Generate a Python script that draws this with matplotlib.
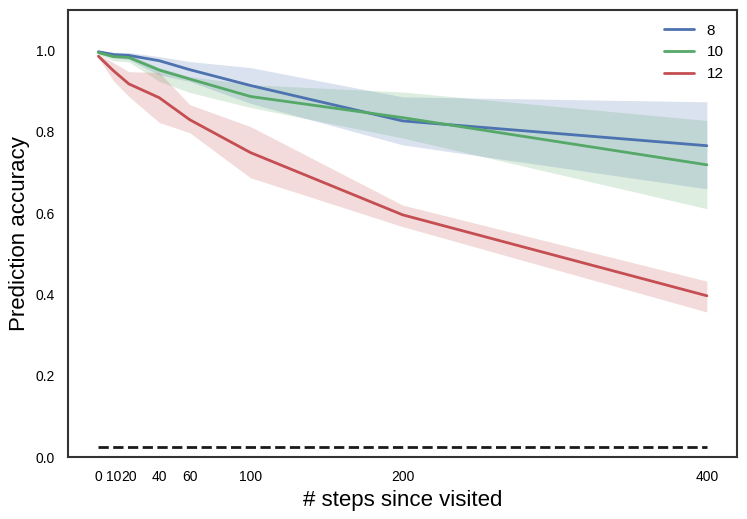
import matplotlib
matplotlib.use("Agg")
import matplotlib.pyplot as plt
import seaborn as sns
import numpy as np

steps = [0, 10, 20, 40, 60, 100, 200, 400]
labels = ["8", "10", "12"]
mean_8 = [0.997, 0.990, 0.988, 0.975, 0.953, 0.914, 0.827, 0.766]
low_8 = [0.992, 0.982, 0.978, 0.940, 0.924, 0.870, 0.768, 0.660]
high_8 = [1.000, 0.996, 0.995, 0.985, 0.973, 0.958, 0.886, 0.874]
mean_10 = [0.995, 0.985, 0.983, 0.952, 0.930, 0.887, 0.835, 0.719]
low_10 = [0.990, 0.975, 0.972, 0.924, 0.897, 0.860, 0.785, 0.611]
high_10 = [0.999, 0.992, 0.990, 0.958, 0.936, 0.916, 0.898, 0.828]
mean_12 = [0.986, 0.950, 0.918, 0.884, 0.830, 0.749, 0.596, 0.397]
low_12 = [0.982, 0.925, 0.887, 0.823, 0.798, 0.687, 0.567, 0.357]
high_12 = [0.990, 0.970, 0.948, 0.946, 0.867, 0.813, 0.620, 0.433]
chance = 0.025

sns.set_theme(style="white")
plt.rcParams['font.family'] = ['Liberation Sans', 'DejaVu Sans']
plt.rcParams['text.color'] = 'black'
plt.rcParams['axes.labelcolor'] = 'black'
plt.rcParams['xtick.color'] = 'black'
plt.rcParams['ytick.color'] = 'black'

pal = sns.color_palette("deep")
colors = [pal[0], pal[2], pal[3]]

fig = plt.figure(figsize=(7.47, 5.19), dpi=100)
ax = fig.add_axes([0.091, 0.119, 0.896, 0.862])

series = [(mean_8, low_8, high_8), (mean_10, low_10, high_10), (mean_12, low_12, high_12)]
for (m, lo, hi), lab, c in zip(series, labels, colors):
    ax.fill_between(steps, lo, hi, color=c, alpha=0.2, linewidth=0)
    ax.plot(steps, m, color=c, lw=2, label=lab)

ax.plot([steps[0], steps[-1]], [chance, chance], 'k--', lw=2)

ax.set_xlim(-20, 420)
ax.set_ylim(0, 1.1)
ax.set_xticks(steps)
ax.set_xticklabels([str(s) for s in steps])
ax.set_yticks([0.0, 0.2, 0.4, 0.6, 0.8, 1.0])
ax.tick_params(labelsize=10)
ax.set_xlabel("# steps since visited", fontsize=16)
ax.set_ylabel("Prediction accuracy", fontsize=16)
for s in ax.spines.values():
    s.set_edgecolor("#333333")
    s.set_linewidth(1.5)
ax.legend(loc="upper right", frameon=False, fontsize=11)

fig.savefig("out.png", dpi=100)
